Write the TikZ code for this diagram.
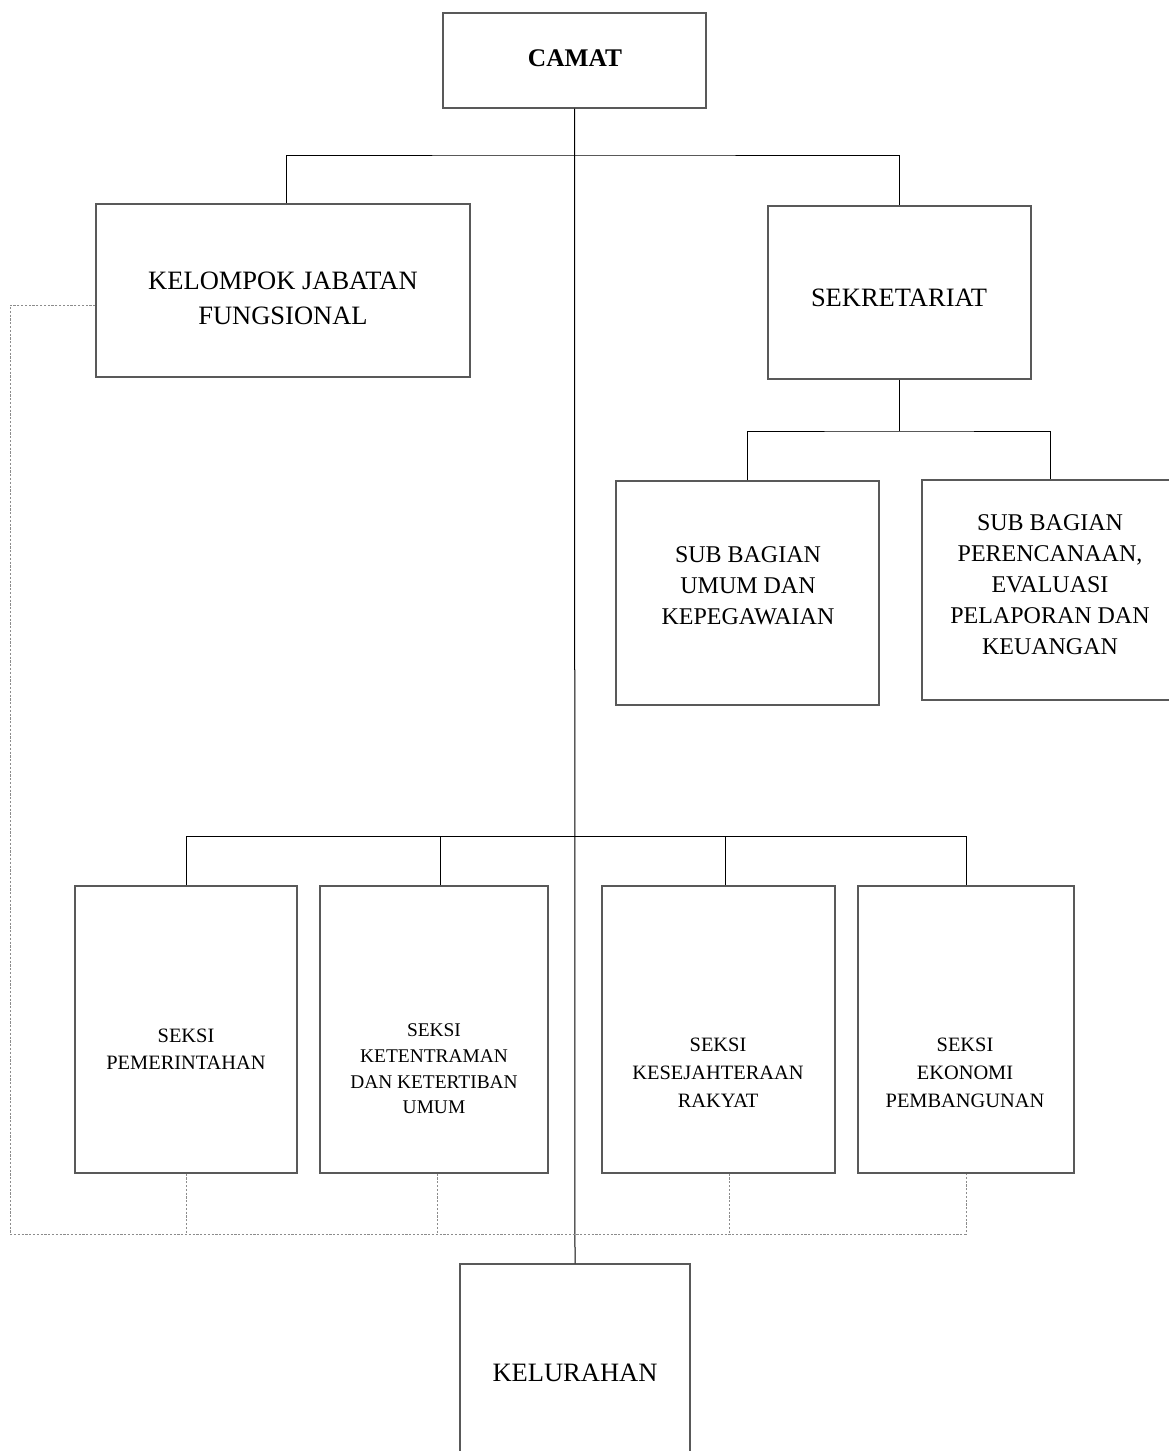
\documentclass[tikz,border=0pt]{standalone}
\usepackage{fontspec}
\setmainfont{Liberation Serif}

\begin{document}
\begin{tikzpicture}[x=1pt,y=-1pt,
  box/.style={draw=black!65,line width=1.2pt,rectangle,inner sep=0pt},
  link/.style={line width=1pt},
  dotline/.style={draw=black!45,line width=0.9pt,dash pattern=on 2.2pt off 1.6pt},
  bigtxt/.style={align=center,font=\fontsize{26.5}{35}\selectfont},
  subtxt/.style={align=center,font=\fontsize{24}{31}\selectfont},
  seksitxt/.style={align=center,font=\fontsize{20.4}{27}\selectfont}]

\clip (0,0) rectangle (1169,1451);

% boxes
\node[box,minimum width=263,minimum height=95] (camat) at (574.5,60.5) {};
\node[box,minimum width=374,minimum height=173] (kjf) at (283,290.5) {};
\node[box,minimum width=263,minimum height=173] (sekr) at (899.5,292.5) {};
\node[box,minimum width=263,minimum height=224] (subumum) at (747.5,593) {};
\node[box,minimum width=256,minimum height=220] (subren) at (1050,590) {};
\node[box,minimum width=222,minimum height=287] (pem) at (186,1029.5) {};
\node[box,minimum width=228,minimum height=287] (trantib) at (434,1029.5) {};
\node[box,minimum width=233,minimum height=287] (kesra) at (718.5,1029.5) {};
\node[box,minimum width=216,minimum height=287] (ekbang) at (966,1029.5) {};
\node[box,minimum width=230,minimum height=218] (kel) at (575,1373) {};

% texts
\node[font=\fontsize{25.4}{30}\selectfont\bfseries] (camat-t) at (575,58) {CAMAT};
\node[bigtxt] (kjf-t) at (283,298) {KELOMPOK JABATAN\\FUNGSIONAL};
\node[bigtxt] (sekr-t) at (899,298) {SEKRETARIAT};
\node[subtxt] (subumum-t) at (748,586) {SUB BAGIAN\\UMUM DAN\\KEPEGAWAIAN};
\node[subtxt] (subren-t) at (1050,585) {SUB BAGIAN\\PERENCANAAN,\\EVALUASI\\PELAPORAN DAN\\KEUANGAN};
\node[seksitxt] (pem-t) at (186,1049) {SEKSI\\PEMERINTAHAN};
\node[align=center,font=\fontsize{19.4}{25.7}\selectfont] (trantib-t) at (434,1069) {SEKSI\\KETENTRAMAN\\DAN KETERTIBAN\\UMUM};
\node[align=center,font=\fontsize{20.4}{28}\selectfont] (kesra-t) at (718,1073) {SEKSI\\KESEJAHTERAAN\\RAKYAT};
\node[align=center,font=\fontsize{20.4}{28}\selectfont] (ekbang-t) at (965,1073) {SEKSI\\EKONOMI\\PEMBANGUNAN};
\node[bigtxt] (kel-t) at (575,1373) {KELURAHAN};

% lines
\coordinate (top) at (575,155);
\coordinate (mid) at (899.5,431);
\coordinate (low) at (575,836);
\coordinate (base) at (10,1234);

\draw[link] (camat.south) -- (kel.north);
\draw[link] ([xshift=3pt]kjf.north) |- (top) -| (sekr.north);
\draw[link] (sekr.south) -- (mid);
\draw[link] (subumum.north) |- (mid) -| (subren.north);
\draw[link] (pem.north) |- (low) -| (ekbang.north);
\draw[link] ([xshift=6pt]trantib.north) -- ([xshift=6pt]trantib.north |- low);
\draw[link] ([xshift=6.5pt]kesra.north) -- ([xshift=6.5pt]kesra.north |- low);

% dotted
\draw[dotline] ([yshift=-14.5pt]kjf.west) -| (base) -| (ekbang.south);
\draw[dotline] (pem.south) -- (pem.south |- base);
\draw[dotline] ([xshift=3pt]trantib.south) -- ([xshift=3pt]trantib.south |- base);
\draw[dotline] ([xshift=10.5pt]kesra.south) -- ([xshift=10.5pt]kesra.south |- base);

\end{tikzpicture}
\end{document}
